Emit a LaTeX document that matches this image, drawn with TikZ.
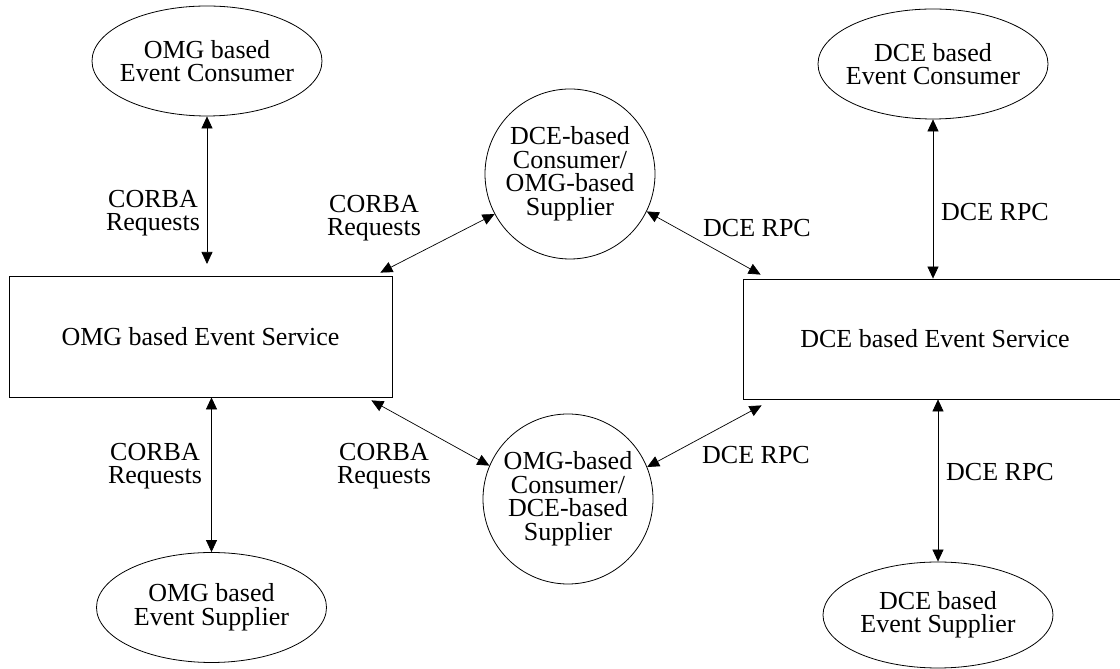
\documentclass[tikz,border=0pt]{standalone}
\usepackage{fontspec}
\setmainfont{Liberation Serif}
\usetikzlibrary{arrows.meta,shapes.geometric}

\begin{document}
\begin{tikzpicture}[x=1pt,y=1pt,
   every node/.style={font=\fontsize{26}{23.5}\selectfont,align=center},
   party/.style={ellipse,draw,line width=0.8pt,inner xsep=-8pt,inner ysep=0pt,minimum width=230pt,minimum height=110pt},
   bridge/.style={circle,draw,line width=0.8pt,inner sep=0pt,minimum size=170pt},
   service/.style={rectangle,draw,line width=0.8pt,minimum width=383pt,minimum height=121pt},
   link/.style={{Triangle[length=12pt,width=11pt]}-{Triangle[length=12pt,width=11pt]},line width=0.7pt}]
   \useasboundingbox (0,0) rectangle (1120,669);
   \node[party] (omg_cons) at (207,608) {OMG based\\Event Consumer};
   \node[party] (dce_cons) at (933,605) {DCE based\\Event Consumer};
   \node[bridge] (gw_up) at (570,495) {DCE-based\\Consumer/\\OMG-based\\Supplier};
   \node[service] (omg_serv) at (200.5,332.5) {OMG based Event Service};
   \node[service,minimum width=384pt,minimum height=120pt] (dce_serv) at (935,330) {DCE based Event Service};
   \node[bridge] (gw_down) at (568,170) {OMG-based\\Consumer/\\DCE-based\\Supplier};
   \node[party] (omg_supp) at (211.5,61.5) {OMG based\\Event Supplier};
   \node[party,minimum height=106pt] (dce_supp) at (938,54) {DCE based\\Event Supplier};
   % free ends next to the service boxes
   \coordinate (omg_gap) at (207,405);
   \coordinate (omg_ne) at ([xshift=-12pt,yshift=3pt]omg_serv.north east);
   \coordinate (omg_se) at ([xshift=-21pt,yshift=-3pt]omg_serv.south east);
   \coordinate (dce_nw) at ([xshift=18pt,yshift=4pt]dce_serv.north west);
   \coordinate (dce_sw) at ([xshift=19pt,yshift=-6pt]dce_serv.south west);
   \path[link]
    (omg_cons.south) edge (omg_gap)
    (omg_supp.north) edge (omg_supp.north |- omg_serv.south)
    (dce_cons.south) edge (dce_cons.south |- dce_serv.north)
    (dce_supp.north) edge (dce_supp.north |- dce_serv.south)
    (omg_ne) edge (gw_up.208)
    (gw_up.334) edge (dce_nw)
    (omg_se) edge (gw_down.157)
    (gw_down.22) edge (dce_sw);
   % labels
   \node (lbl_corba_a) at (153,456) {CORBA\\Requests};
   \node (lbl_corba_b) at (374,451) {CORBA\\Requests};
   \node (lbl_rpc_a) at (757,441) {DCE RPC};
   \node (lbl_rpc_b) at (995,457) {DCE RPC};
   \node (lbl_corba_c) at (155,203) {CORBA\\Requests};
   \node (lbl_corba_d) at (384,203) {CORBA\\Requests};
   \node (lbl_rpc_c) at (756,214) {DCE RPC};
   \node (lbl_rpc_d) at (1000,197) {DCE RPC};
\end{tikzpicture}
\end{document}
